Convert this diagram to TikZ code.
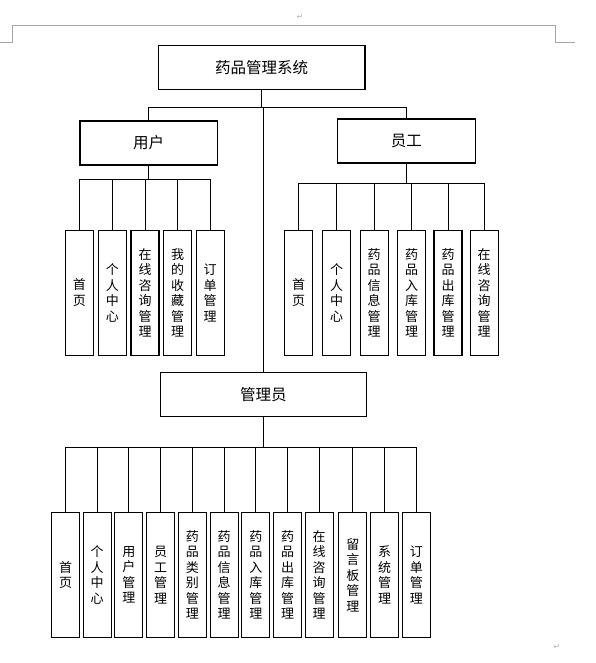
\documentclass[tikz,border=0pt]{standalone}
\usepackage{fontspec}
\newfontfamily\cjk{Noto Sans CJK SC}
\newfontfamily\symfont{DejaVu Sans}
\begin{document}
\begin{tikzpicture}[x=1pt, y=-1pt]
		\tikzset{box/.style={draw=black, line width=1.1pt, minimum height=44pt, font=\cjk\fontsize{15.5}{18}\selectfont}};
		\tikzset{leaf/.style={draw=black, line width=1.1pt, minimum width=28pt, minimum height=125pt, inner sep=0pt, align=center, text width=14pt, font=\cjk\fontsize{13}{15.5}\selectfont}};
		\tikzset{ln/.style={line width=0.9pt}};
		\tikzset{mark/.style={draw=none}};

		\useasboundingbox (0,0) rectangle (596,663);

		\draw[gray!70, line width=0.8pt] (0,42) -- (12.5,42) -- (12.5,25) -- (555,25) -- (555,42) -- (575,42);
		\node[gray!60, font=\symfont\fontsize{8}{8}\selectfont] (ret1) at (300,17) {↵};
		\node[gray!60, font=\symfont\fontsize{8}{8}\selectfont] (ret2) at (557,647) {↵};

		\node[box, minimum width=206.6pt] (sys) at (261.7,67.7) {药品管理系统};
		\node[box, minimum width=137.5pt] (user) at (148.7,143) {用户};
		\node[box, minimum width=137.5pt] (staff) at (406.3,141) {员工};
		\node[box, minimum width=205.7pt] (mgr) at (263.3,394.2) {管理员};

		\node[leaf] (u1) at (79.3,292.8) {首\\页};
		\node[leaf] (u2) at (112.3,292.8) {个\\人\\中\\心};
		\node[leaf] (u3) at (145,292.8) {在\\线\\咨\\询\\管\\理};
		\node[leaf] (u4) at (177.7,292.8) {我\\的\\收\\藏\\管\\理};
		\node[leaf] (u5) at (210.2,292.8) {订\\单\\管\\理};

		\node[leaf] (s1) at (298.5,292.8) {首\\页};
		\node[leaf] (s2) at (336.5,292.8) {个\\人\\中\\心};
		\node[leaf] (s3) at (374.2,292.8) {药\\品\\信\\息\\管\\理};
		\node[leaf] (s4) at (411.7,292.8) {药\\品\\入\\库\\管\\理};
		\node[leaf] (s5) at (448,292.8) {药\\品\\出\\库\\管\\理};
		\node[leaf] (s6) at (484.2,292.8) {在\\线\\咨\\询\\管\\理};

		\node[leaf] (m1) at (65.5,575) {首\\页};
		\node[leaf] (m2) at (97.2,575) {个\\人\\中\\心};
		\node[leaf] (m3) at (128.8,575) {用\\户\\管\\理};
		\node[leaf] (m4) at (160.5,575) {员\\工\\管\\理};
		\node[leaf] (m5) at (192.3,575) {药\\品\\类\\别\\管\\理};
		\node[leaf] (m6) at (224.2,575) {药\\品\\信\\息\\管\\理};
		\node[leaf] (m7) at (255.8,575) {药\\品\\入\\库\\管\\理};
		\node[leaf] (m8) at (287.5,575) {药\\品\\出\\库\\管\\理};
		\node[leaf] (m9) at (319.2,575) {在\\线\\咨\\询\\管\\理};
		\node[leaf] (m10) at (352.8,575) {留\\言\\板\\管\\理};
		\node[leaf] (m11) at (384.5,575) {系\\统\\管\\理};
		\node[leaf] (m12) at (416.3,575) {订\\单\\管\\理};

		\coordinate (top) at (261.7,107);
		\coordinate (ubar) at (148.7,179.3);
		\coordinate (sbar) at (406.3,183.3);
		\coordinate (mbar) at (263.3,447.7);

		\draw[ln] (sys) -- (top);
		\draw[ln] (user.north) |- (top);
		\draw[ln] (top) -| (staff.north);
		\draw[ln] (mgr.north) -- (mgr |- top);

		\draw[ln] (user) -- (ubar);
		\draw[ln] (ubar) -| (u1);
		\draw[ln] (ubar) -| (u2);
		\draw[ln] (ubar) -| (u3);
		\draw[ln] (ubar) -| (u4);
		\draw[ln] (ubar) -| (u5);

		\draw[ln] (staff) -- (sbar);
		\draw[ln] (sbar) -| (s1);
		\draw[ln] (sbar) -| (s2);
		\draw[ln] (sbar) -| (s3);
		\draw[ln] (sbar) -| (s4);
		\draw[ln] (sbar) -| (s5);
		\draw[ln] (sbar) -| (s6);

		\draw[ln] (mgr) -- (mbar);
		\draw[ln] (mbar) -| (m1);
		\draw[ln] (mbar) -| (m2);
		\draw[ln] (mbar) -| (m3);
		\draw[ln] (mbar) -| (m4);
		\draw[ln] (mbar) -| (m5);
		\draw[ln] (mbar) -| (m6);
		\draw[ln] (mbar) -| (m7);
		\draw[ln] (mbar) -| (m8);
		\draw[ln] (mbar) -| (m9);
		\draw[ln] (mbar) -| (m10);
		\draw[ln] (mbar) -| (m11);
		\draw[ln] (mbar) -| (m12);

	\end{tikzpicture}
\end{document}
